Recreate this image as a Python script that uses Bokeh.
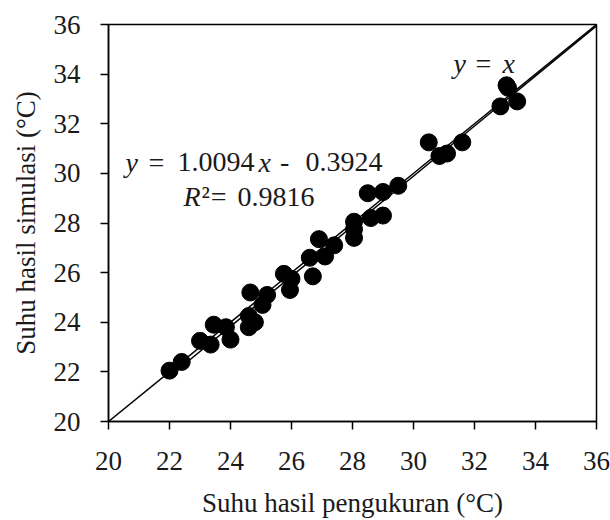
from bokeh.plotting import figure
from bokeh.models import FixedTicker, Label, ColumnDataSource
from bokeh.embed import file_html
from bokeh.resources import INLINE

# ---- data ----
measured = [22.0, 22.4, 23.0, 23.35, 23.45, 23.85, 24.0, 24.6, 24.8, 24.6,
            24.65, 25.2, 25.05, 25.75, 25.95, 26.0, 26.7, 26.6, 27.1, 26.9,
            27.4, 28.05, 28.05, 28.05, 28.6, 29.0, 28.5, 29.0, 29.5, 30.5,
            30.85, 31.1, 31.6, 33.05, 33.1, 32.85, 33.4]
simulated = [22.05, 22.4, 23.25, 23.1, 23.9, 23.8, 23.3, 23.8, 24.0, 24.25,
             25.2, 25.1, 24.7, 25.95, 25.3, 25.75, 25.85, 26.6, 26.65, 27.35,
             27.1, 27.4, 27.75, 28.05, 28.2, 28.3, 29.2, 29.25, 29.5, 31.25,
             30.7, 30.8, 31.25, 33.55, 33.45, 32.7, 32.9]
axis_ticks = [20, 22, 24, 26, 28, 30, 32, 34, 36]
slope = 1.0094
intercept = -0.3924
r_squared = 0.9816

FONT = "Liberation Serif"
TEXT_COLOR = "#1a1a1a"
lo, hi = axis_ticks[0], axis_ticks[-1]

p = figure(width=610, height=520, output_backend="svg", toolbar_location=None,
           x_range=(lo, hi), y_range=(lo, hi),
           min_border_left=108, min_border_right=14,
           min_border_top=24, min_border_bottom=98)
p.background_fill_color = "white"
p.border_fill_color = "white"
p.outline_line_color = "black"
p.outline_line_width = 1.5
p.grid.visible = False

for ax in (p.xaxis[0], p.yaxis[0]):
    ax.ticker = FixedTicker(ticks=axis_ticks)
    ax.axis_line_color = "black"
    ax.axis_line_width = 1.5
    ax.major_tick_line_color = "black"
    ax.major_tick_line_width = 1.5
    ax.major_tick_out = 8
    ax.major_tick_in = 0
    ax.minor_tick_line_color = None
    ax.major_label_text_font = FONT
    ax.major_label_text_font_size = "27px"
    ax.major_label_text_color = TEXT_COLOR
    ax.axis_label_text_font = FONT
    ax.axis_label_text_font_size = "27px"
    ax.axis_label_text_font_style = "normal"
    ax.axis_label_text_color = TEXT_COLOR

p.xaxis[0].axis_label = "Suhu hasil pengukuran (°C)"
p.yaxis[0].axis_label = "Suhu hasil simulasi (°C)"
p.xaxis[0].major_label_standoff = 22
p.yaxis[0].major_label_standoff = 20
p.xaxis[0].axis_label_standoff = 15
p.yaxis[0].axis_label_standoff = 10

# y = x line
p.line([lo, hi], [lo, hi], line_color="black", line_width=1.5)
# trendline
tx = [min(measured), hi]
ty = [slope * v + intercept for v in tx]
p.line(tx, ty, line_color="black", line_width=1.5)

src = ColumnDataSource(dict(x=measured, y=simulated))
p.scatter("x", "y", source=src, size=17, fill_color="black", line_color="black")

def lab(x, y, text, italic=False, size="28px"):
    p.add_layout(Label(x=x, y=y, text=text, text_font=FONT, text_font_size=size,
                       text_font_style="italic" if italic else "normal",
                       text_color=TEXT_COLOR, text_baseline="alphabetic",
                       text_align="left"))

# equation line 1
lab(20.56, 30.45, "y", True)
lab(21.31, 30.45, "=")
lab(22.26, 30.45, f"{slope:.4f}")
lab(24.92, 30.45, "x", True)
lab(25.62, 30.45, "-")
lab(26.46, 30.45, f"{abs(intercept):.4f}")
# line 2
lab(22.46, 29.05, "R", True)
lab(23.05, 29.05, "²")
lab(23.35, 29.05, "=")
lab(24.23, 29.05, f"{r_squared:.4f}")
# y = x label
lab(31.31, 34.43, "y", True)
lab(32.03, 34.43, "=")
lab(32.92, 34.43, "x", True)

open("out.html", "w").write(file_html(p, INLINE))
